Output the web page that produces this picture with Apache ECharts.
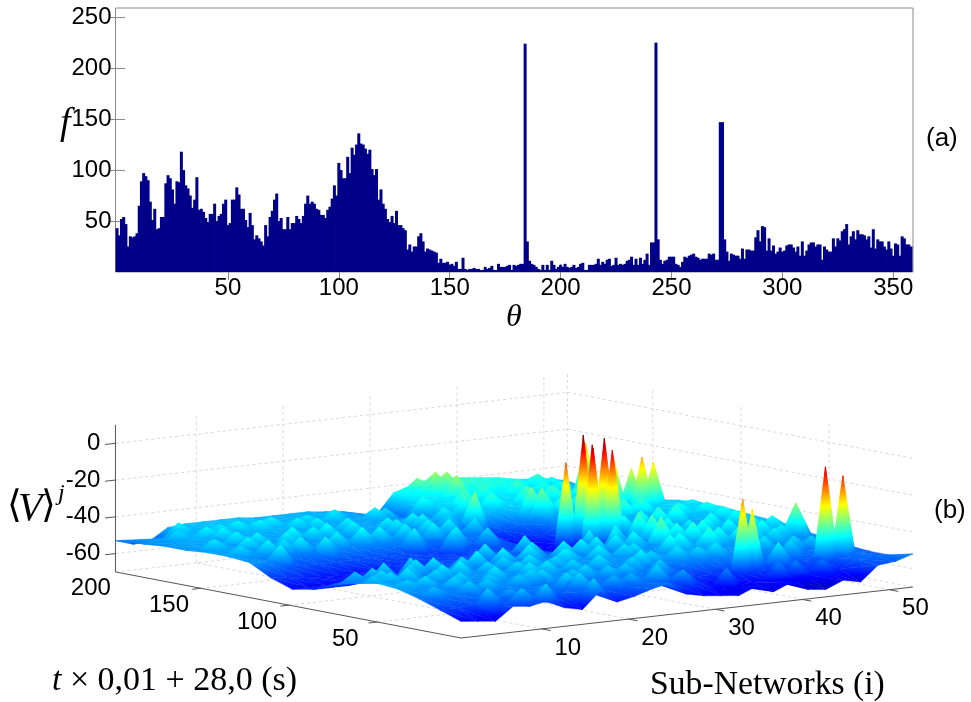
<!DOCTYPE html>
<html>
<head>
<meta charset="utf-8">
<style>html,body{margin:0;padding:0;background:#fff}#chart{width:971px;height:702px}</style>
<script src="https://cdn.jsdelivr.net/npm/echarts@6/dist/echarts.min.js"></script>
</head>
<body>
<div id="chart"></div>
<script>
// histogram (a): counts per degree
const histCounts = [
43,36,52,54,47,25,35,34,35,38,65,89,97,94,90,69,51,62,42,43,54,54,87,95,92,81,67,89,88,118,100,85,82,75,63,71,93,61,62,59,
53,49,57,57,67,50,55,57,67,71,46,48,71,71,83,76,62,62,51,44,58,46,32,36,33,30,26,46,35,54,60,71,77,50,53,42,42,54,42,48,
48,55,52,48,55,67,75,67,69,67,62,61,56,56,53,61,64,72,85,75,107,100,92,92,113,97,122,115,125,136,126,125,121,116,120,101,95,101,71,81,
67,62,52,49,55,48,60,46,
46,43,41,22,27,20,25,25,35,38,30,20,23,22,21,20,19,9,13,9,9,10,7,8,6,10,3,3,14,3,2,3,3,4,3,3,2,2,5,3,4,6,2,2,8,5,5,5,6,7,2,7,6,7,8,8,
224,30,11,8,7,5,3,2,7,2,7,2,11,7,3,5,7,5,8,5,4,5,7,4,5,8,9,2,2,7,7,7,8,13,7,10,8,12,13,6,7,14,7,8,7,8,11,12,15,7,13,7,14,8,12,18,7,29,29,
225,32,12,8,11,12,15,15,15,8,7,5,10,15,14,16,17,18,15,14,12,
13,13,13,18,17,18,12,12,147,147,32,20,11,18,17,16,16,13,23,13,22,22,21,21,34,41,30,45,44,21,33,21,26,18,20,24,20,21,26,27,27,24,20,25,16,30,16,21,27,29,
29,25,27,27,12,25,22,20,20,33,25,33,31,40,42,47,27,35,40,32,41,37,37,36,32,35,24,42,23,32,30,30,25,22,30,23,16,28,27,16,35,33,27,27,25,36
];
const histTicksX = [50, 100, 150, 200, 250, 300, 350];
const histTicksY = [50, 100, 150, 200, 250];

// surface (b): base level in mV at each row of t / column of i
const surfT = [0, 12, 24, 36, 48, 60, 72, 84, 96, 108, 120, 132, 144, 156, 168, 180, 196];
const surfI = [0, 2, 4, 6, 8, 10, 12, 14, 16, 18, 20, 22, 24, 26, 28, 30, 32, 34, 36, 38, 40, 42, 44, 46, 48, 50, 52];
const surfZ = [
[-61,-62,-63,-56,-57,-55,-60,-62,-53,-60,-58,-55,-53,-60,-62,-63,-64,-60,-64,-60,-65,-66,-62,-64,-56,-55,-52],
[-57,-57,-56,-55,-54,-54,-54,-55,-54,-55,-54,-54,-54,-55,-56,-58,-63,-62,-61,-61,-60,-60,-59,-59,-55,-54,-55],
[-53,-53,-53,-53,-53,-52,-52,-53,-52,-52,-53,-53,-52,-53,-54,-55,-58,-58,-57,-55,-55,-55,-55,-55,-53,-54,-55],
[-50,-51,-51,-52,-52,-52,-51,-52,-51,-51,-52,-52,-52,-52,-52,-52,-52,-52,-52,-52,-52,-52,-53,-53,-53,-53,-54],
[-49,-50,-51,-51,-52,-51,-51,-51,-51,-51,-51,-51,-51,-51,-51,-51,-51,-51,-50,-50,-51,-51,-51,-52,-52,-52,-52],
[-51,-52,-52,-52,-52,-52,-52,-52,-52,-52,-51,-51,-51,-51,-51,-51,-52,-51,-50,-50,-50,-51,-51,-51,-51,-51,-51],
[-54,-54,-54,-54,-54,-53,-53,-53,-53,-53,-52,-52,-52,-52,-52,-52,-54,-52,-51,-50,-50,-51,-51,-51,-50,-50,-49],
[-59,-59,-59,-58,-58,-57,-56,-55,-55,-54,-54,-54,-54,-54,-54,-55,-59,-56,-54,-52,-51,-51,-51,-51,-50,-49,-48],
[-61,-61,-61,-60,-60,-60,-59,-58,-57,-56,-56,-55,-55,-55,-56,-57,-63,-60,-57,-54,-52,-51,-50,-50,-49,-48,-47],
[-57,-58,-59,-60,-60,-60,-59,-58,-58,-57,-57,-57,-56,-56,-56,-57,-64,-62,-60,-57,-52,-50,-49,-49,-48,-47,-46],
[-51,-52,-54,-56,-56,-56,-56,-56,-56,-56,-57,-57,-56,-55,-55,-56,-63,-61,-60,-56,-51,-49,-48,-48,-47,-46,-46],
[-50,-51,-51,-52,-52,-52,-52,-52,-52,-52,-52,-53,-53,-52,-53,-54,-62,-60,-58,-53,-50,-48,-48,-48,-47,-47,-47],
[-50,-50,-50,-51,-51,-51,-51,-51,-51,-51,-51,-51,-51,-51,-52,-53,-58,-56,-54,-50,-48,-47,-47,-47,-48,-48,-49],
[-51,-50,-50,-51,-50,-50,-50,-50,-50,-50,-50,-50,-50,-51,-51,-51,-49,-48,-47,-47,-47,-46,-46,-47,-48,-49,-50],
[-51,-50,-49,-49,-49,-49,-49,-49,-50,-50,-50,-50,-50,-50,-51,-52,-47,-46,-46,-46,-46,-45,-46,-47,-48,-49,-51],
[-52,-50,-49,-49,-49,-48,-48,-48,-49,-49,-49,-49,-50,-50,-52,-54,-46,-45,-45,-44,-45,-45,-46,-46,-47,-48,-51],
[-53,-56,-55,-49,-48,-48,-48,-48,-49,-49,-49,-49,-50,-51,-54,-55,-44,-41,-39,-39,-40,-41,-42,-44,-45,-46,-48]
];

// spikes standing on the surface: position and tip height
const peakI = [37,35,48,36,35.5,38,37.5,45,47.4,46.8,48.5,38.8,38.3,38.1,36.6,34.6,36.1,43.1,44.1,47.4,49.8,49.4,48.8,36.8,37.9,50.3,47,46.2,46,48,
37.9,38.3,35.2,36.1,35.6,33.7,34,31.2,39.4,39.9,33,33.2,42,44,46.8,48,
5.5,6.3,5.8,4.7,5,4,5,14,15.5,16.9,13.1,13.2,10.4,9.4,8.5,12,
6.1,7.3,7.2,5.9,14,14.1,17,16.2,14.1,15,15.6,16.5,26.4,25.2,30,33.8,28.2,39.1,39.8,41.2,
4.7,7.8,12.2,10,10.6,16.1,23.4,29.8,25.7,24.2,23.6,20,24,26,20,22,19,25,22,10,3,21,24,20,21,33,40,43,44,41];
const peakT = [113,113,166,103,100,106,99,135,137,128,130,99,88,79.5,67,52,54,83,78,110,106,95,85,21.6,21.6,58,61,50,20,20,
147,143,188,186,178,191,166,146,190,183,193,195,185,185,187,185,
171.5,166,156,144,134,122,185,176.6,169,165,135,149,128,145,133,173,
74,65,50,33,54,69,60,48,30,28,17,14,33,13,71,80,37,52,64.7,57,
8,4,27,33,4,4,131,157,154,138,119,85,78,92,125,145,158,172,180,78,60,50,58,28,40,40,35,40,30,22];
const peakZ = [0,-14,-20,-3,-4,-1,-6,-22,-28,-20,-24,-42,-38,-38,-36,-42,-42,-44,-42,-42,-42,-42,-42,-18,-24,-34,-42,-44,-5,-11,
-35,-35,-33,-33,-33,-36,-38,-34,-40,-40,-44,-44,-41,-41,-40,-42,
-44,-44,-44,-44,-44,-44,-44,-44,-44,-44,-44,-44,-44,-44,-44,-44,
-46,-46,-46,-46,-46,-46,-46,-46,-46,-46,-46,-46,-46,-46,-44,-44,-44,-40,-40,-42,
-47,-48,-47,-47,-47,-47,-44,-44,-44,-44,-44,-45,-45,-45,-44,-44,-44,-44,-45,-46,-46,-46,-45,-46,-46,-45,-44,-45,-46,-44];
// more of the small spikes, row by row: t, their i, their tip heights
const peakRows = [
[176, [3,8,10,18,21,27], [-46,-45,-44,-45,-45,-46]],
[150, [2,7,11,15,18,22,26,29], [-45,-44,-43,-43,-44,-44,-44,-46]],
[135, [2,7,16,18,21,26,29], [-46,-45,-43,-44,-44,-44,-45]],
[118, [23,27], [-45,-46]],
[70, [2,4,9,11,16,19,22,26,28], [-48,-47,-45,-45,-44,-44,-44,-44,-44]],
[55, [1,3,5,9,11,19,23,27,30], [-47,-46,-45,-45,-44,-45,-44,-44,-45]],
[40, [2,4,8,12,16,18,24,30], [-47,-46,-46,-45,-45,-45,-45,-46]],
[25, [2,6,8,18,22,24,28], [-48,-47,-47,-47,-47,-47,-47]],
[12, [8,12,20,22,28], [-50,-50,-49,-49,-50]],
[175, [31,38,42,45,47], [-42,-40,-39,-41,-42]],
[160, [33,36,40,43,46,49], [-40,-40,-38,-39,-41,-43]],
[140, [40,42,44,50], [-40,-39,-38,-42]],
[120, [41,43,45,51], [-40,-39,-39,-44]],
[100, [41,43,45], [-41,-40,-40]],
[85, [32,35,41,46], [-44,-43,-42,-42]],
[70, [32,34,39,42,45,48,50], [-44,-43,-41,-41,-42,-43,-43]],
[55, [31,43,45,48], [-45,-43,-44,-44]],
[38, [35,37,46,48,50], [-46,-45,-46,-47,-47]],
[12, [33,39,41,44], [-52,-52,-52,-53]]
];

const zTicks = [0, -20, -40, -60];
const tTicks = [50, 100, 150, 200];
const iTicks = [10, 20, 30, 40, 50];

// 3d box limits
const iMax = 52, tMax = 196, zMin = -70, zMax = 10;
// the box does not start exactly at i=0, t=0, ticks sit a bit inside the corner
const iOrigin = 0.7, tOrigin = 2.5;
// how a unit of i, t, z lands on the flat plane axes (orthographic view)
const iStep = [8.69, 0.98], tStep = [1.763, 0.337], zStep = 1.8375;
const plane = { left: 100, top: 370, width: 830, height: 280, frontX: 361, frontY: 268 };

function project(i, t, z) {
  return [
    plane.frontX + i * iStep[0] - t * tStep[0],
    plane.frontY - i * iStep[1] - t * tStep[1] - (z - zMin) * zStep
  ];
}

// depth along the floor: bigger is further from the viewer
function depth(i, t) { return iStep[1] * i + tStep[1] * t; }

function surfaceAt(i, t) {
  let c = Math.min(Math.floor(i / 2), surfI.length - 2);
  let r = 0;
  while (r < surfT.length - 2 && surfT[r + 1] <= t) r++;
  const fi = (i - surfI[c]) / (surfI[c + 1] - surfI[c]);
  const ft = (t - surfT[r]) / (surfT[r + 1] - surfT[r]);
  return (surfZ[r][c] * (1 - fi) + surfZ[r][c + 1] * fi) * (1 - ft) +
         (surfZ[r + 1][c] * (1 - fi) + surfZ[r + 1][c + 1] * fi) * ft;
}

// matlab jet, colour limits -70..0
const jetStops = [[0, [0, 0, 128]], [0.125, [0, 0, 255]], [0.375, [0, 255, 255]], [0.625, [255, 255, 0]], [0.875, [255, 0, 0]], [1, [128, 0, 0]]];
const cLow = -70, cHigh = 0;
function jet(z) {
  const f = Math.max(0, Math.min(1, (z - cLow) / (cHigh - cLow)));
  for (let k = 1; k < jetStops.length; k++) {
    if (f <= jetStops[k][0]) {
      const a = jetStops[k - 1], b = jetStops[k];
      const m = (f - a[0]) / (b[0] - a[0]);
      return 'rgb(' + a[1].map((v, n) => Math.round(v + (b[1][n] - v) * m)).join(',') + ')';
    }
  }
  return 'rgb(128,0,0)';
}

// triangles of the surface + spikes, far ones first
const tris = [];
for (let r = 0; r < surfT.length - 1; r++) {
  for (let c = 0; c < surfI.length - 1; c++) {
    const a = [surfI[c], surfT[r], surfZ[r][c]];
    const b = [surfI[c + 1], surfT[r], surfZ[r][c + 1]];
    const d = [surfI[c], surfT[r + 1], surfZ[r + 1][c]];
    const e = [surfI[c + 1], surfT[r + 1], surfZ[r + 1][c + 1]];
    const key = depth(surfI[c] + 1, surfT[r] + (surfT[r + 1] - surfT[r]) / 2);
    tris.push({ v: [d, e, b], key: key + 0.01 });
    tris.push({ v: [d, b, a], key: key });
  }
}
function addPeak(pi, pt, pz) {
  const tall = pz > -30;
  const di = tall ? 1.4 : 1.8, dt = tall ? 3 : 7;
  const tip = [pi, pt, pz];
  const rim = [[pi, pt + dt], [pi + di, pt], [pi, pt - dt], [pi - di, pt]]
    .map(p => {
      const ri = Math.max(0, Math.min(p[0], iMax)), rt = Math.max(0, Math.min(p[1], tMax));
      return [ri, rt, surfaceAt(ri, rt)];
    });
  const key = depth(pi, pt) - 1.5;
  tris.push({ v: [tip, rim[0], rim[3]], key: key + 0.003 });
  tris.push({ v: [tip, rim[0], rim[1]], key: key + 0.002 });
  tris.push({ v: [tip, rim[3], rim[2]], key: key + 0.001 });
  tris.push({ v: [tip, rim[2], rim[1]], key: key });
}
peakI.forEach((pi, n) => addPeak(pi, peakT[n], peakZ[n]));
peakRows.forEach(row => row[1].forEach((pi, n) => addPeak(pi, row[0], row[2][n])));
tris.sort((p, q) => q.key - p.key);

function triFill(pts, zs) {
  const lo = Math.min(zs[0], zs[1], zs[2]), hi = Math.max(zs[0], zs[1], zs[2]);
  if (hi - lo < 0.01) return jet(lo);
  // gradient of z across the triangle on screen
  const x1 = pts[1][0] - pts[0][0], y1 = pts[1][1] - pts[0][1];
  const x2 = pts[2][0] - pts[0][0], y2 = pts[2][1] - pts[0][1];
  const z1 = zs[1] - zs[0], z2 = zs[2] - zs[0];
  const det = x1 * y2 - x2 * y1;
  if (Math.abs(det) < 0.5) return jet((lo + hi) / 2);
  const gx = (z1 * y2 - z2 * y1) / det, gy = (x1 * z2 - x2 * z1) / det;
  const g2 = gx * gx + gy * gy;
  const p0 = [pts[0][0] + gx * (lo - zs[0]) / g2, pts[0][1] + gy * (lo - zs[0]) / g2];
  const p1 = [pts[0][0] + gx * (hi - zs[0]) / g2, pts[0][1] + gy * (hi - zs[0]) / g2];
  const stops = [{ offset: 0, color: jet(lo) }];
  jetStops.forEach(s => {
    const z = cLow + s[0] * (cHigh - cLow);
    if (z > lo && z < hi) stops.push({ offset: (z - lo) / (hi - lo), color: jet(z) });
  });
  stops.push({ offset: 1, color: jet(hi) });
  return new echarts.graphic.LinearGradient(p0[0], p0[1], p1[0], p1[1], stops, true);
}

// box: grid lines and axis lines
const boxLines = [];
const gridStyle = { stroke: '#d8d8d8', lineWidth: 1, lineDash: [3, 3] };
const axisStyle = { stroke: '#555', lineWidth: 1 };
zTicks.forEach(z => {
  boxLines.push({ a: [0, tMax, z], b: [iMax, tMax, z], s: gridStyle });
  boxLines.push({ a: [iMax, tMax, z], b: [iMax, 0, z], s: gridStyle });
});
iTicks.forEach(v => {
  const i = v - iOrigin;
  boxLines.push({ a: [i, 0, zMin], b: [i, tMax, zMin], s: gridStyle });
  boxLines.push({ a: [i, tMax, zMin], b: [i, tMax, zMax], s: gridStyle });
  boxLines.push({ a: [i, 0, zMin], b: [i, -5, zMin], s: axisStyle });
});
tTicks.filter(v => v < tMax).forEach(v => {
  const t = v - tOrigin;
  boxLines.push({ a: [0, t, zMin], b: [iMax, t, zMin], s: gridStyle });
  boxLines.push({ a: [iMax, t, zMin], b: [iMax, t, zMax], s: gridStyle });
  boxLines.push({ a: [0, t, zMin], b: [-1, t, zMin], s: axisStyle });
});
boxLines.push({ a: [0, tMax, zMin], b: [iMax, tMax, zMin], s: gridStyle });
boxLines.push({ a: [iMax, tMax, zMin], b: [iMax, 0, zMin], s: gridStyle });
boxLines.push({ a: [iMax, tMax, zMin], b: [iMax, tMax, zMax], s: gridStyle });
boxLines.push({ a: [0, tMax, zMin], b: [0, tMax, zMax], s: axisStyle });
boxLines.push({ a: [0, tMax, zMin], b: [0, 0, zMin], s: axisStyle });
boxLines.push({ a: [0, 0, zMin], b: [iMax, 0, zMin], s: axisStyle });
zTicks.forEach(z => boxLines.push({ a: [0, tMax, z], b: [-1.2, tMax, z], s: axisStyle }));

const boxLabels = [];
zTicks.forEach(z => boxLabels.push({ text: String(z), at: [0, tMax, z], dx: -15, dy: 0, align: 'right' }));
tTicks.forEach(v => boxLabels.push({ text: String(v), at: [0, v - tOrigin, zMin], dx: v === 200 ? -22 : -32, dy: 17, align: 'center' }));
iTicks.forEach(v => boxLabels.push({ text: String(v), at: [v - iOrigin, 0, zMin], dx: 26, dy: 19, align: 'center' }));

const tickFont = { fontFamily: 'Liberation Sans', fontSize: 24, color: '#000' };
const serif = 'Liberation Serif';

const chart = echarts.init(document.getElementById('chart'), null, { renderer: 'canvas' });
chart.setOption({
  animation: false,
  backgroundColor: '#fff',
  grid: [
    { left: 115.5, top: 8, width: 797.5, height: 264, show: true, borderColor: '#8a8a8a', borderWidth: 1, backgroundColor: '#fff' },
    { left: plane.left, top: plane.top, width: plane.width, height: plane.height }
  ],
  xAxis: [
    { type: 'value', gridIndex: 0, min: -0.7, max: 358.9, splitLine: { show: false }, axisLine: { show: false },
      axisTick: { show: true, inside: true, length: 8, lineStyle: { color: '#8a8a8a' }, customValues: histTicksX },
      axisLabel: { show: true, margin: 4, customValues: histTicksX, ...tickFont } },
    { type: 'value', gridIndex: 0, position: 'top', min: -0.7, max: 358.9, splitLine: { show: false }, axisLine: { show: false },
      axisTick: { show: true, inside: true, length: 8, lineStyle: { color: '#8a8a8a' }, customValues: histTicksX },
      axisLabel: { show: false } },
    { type: 'value', gridIndex: 1, min: 0, max: plane.width, show: false }
  ],
  yAxis: [
    { type: 'value', gridIndex: 0, min: 0, max: 259, splitLine: { show: false }, axisLine: { show: false },
      axisTick: { show: true, inside: true, length: 8, lineStyle: { color: '#8a8a8a' }, customValues: histTicksY },
      axisLabel: { show: true, margin: 4, customValues: histTicksY, ...tickFont } },
    { type: 'value', gridIndex: 0, position: 'right', min: 0, max: 259, splitLine: { show: false }, axisLine: { show: false },
      axisTick: { show: true, inside: true, length: 8, lineStyle: { color: '#8a8a8a' }, customValues: histTicksY },
      axisLabel: { show: false } },
    { type: 'value', gridIndex: 1, min: 0, max: plane.height, inverse: true, show: false }
  ],
  series: [
    {
      type: 'bar', xAxisIndex: 0, yAxisIndex: 0, barWidth: 3, silent: true, clip: true,
      itemStyle: { color: '#000088' },
      data: histCounts.slice(0, 359).map((v, k) => [k, v])
    },
    {
      // box behind the surface
      type: 'custom', xAxisIndex: 2, yAxisIndex: 2, silent: true, clip: false, progressive: 0,
      data: boxLines.map((_, k) => [k]),
      renderItem(params, api) {
        const l = boxLines[params.dataIndex];
        const a = api.coord(project(l.a[0], l.a[1], l.a[2]));
        const b = api.coord(project(l.b[0], l.b[1], l.b[2]));
        return { type: 'line', shape: { x1: a[0], y1: a[1], x2: b[0], y2: b[1] }, style: { fill: null, ...l.s } };
      }
    },
    {
      type: 'custom', xAxisIndex: 2, yAxisIndex: 2, silent: true, clip: false, progressive: 0,
      data: tris.map((_, k) => [k]),
      renderItem(params, api) {
        const tri = tris[params.dataIndex];
        const pts = tri.v.map(p => api.coord(project(p[0], p[1], p[2])));
        const fill = triFill(pts, tri.v.map(p => p[2]));
        return { type: 'polygon', shape: { points: pts }, style: { fill: fill, stroke: fill, lineWidth: 0.4, lineJoin: 'round' } };
      }
    },
    {
      type: 'custom', xAxisIndex: 2, yAxisIndex: 2, silent: true, clip: false, progressive: 0,
      data: boxLabels.map((_, k) => [k]),
      renderItem(params, api) {
        const l = boxLabels[params.dataIndex];
        const p = api.coord(project(l.at[0], l.at[1], l.at[2]));
        return { type: 'text', x: p[0] + l.dx, y: p[1] + l.dy,
          style: { text: l.text, textAlign: l.align, textVerticalAlign: 'middle', font: '24px "Liberation Sans"', fill: '#000' } };
      }
    }
  ],
  graphic: [
    { type: 'text', left: 926, top: 126, style: { text: '(a)', font: '26px "Liberation Sans"', fill: '#000' } },
    { type: 'text', left: 934, top: 498, style: { text: '(b)', font: '26px "Liberation Sans"', fill: '#000' } },
    { type: 'text', left: 60, top: 105, style: { text: 'f', font: 'italic 38px "' + serif + '"', fill: '#000' } },
    { type: 'text', left: 506, top: 302, style: { text: 'θ', font: 'italic 32px "' + serif + '"', fill: '#000' } },
    { type: 'text', left: 7, top: 488, style: { text: '⟨', font: '38px "DejaVu Serif"', fill: '#000' } },
    { type: 'text', left: 18, top: 489, style: { text: 'V', font: 'italic 40px "' + serif + '"', fill: '#000' } },
    { type: 'text', left: 41, top: 488, style: { text: '⟩', font: '38px "DejaVu Serif"', fill: '#000' } },
    { type: 'text', left: 58, top: 482, style: { text: 'j', font: 'italic 24px "' + serif + '"', fill: '#000' } },
    { type: 'text', left: 52, top: 664, style: {
      text: '{i|t} × 0,01 + 28,0 (s)', font: '34px "' + serif + '"', fill: '#000',
      rich: { i: { font: 'italic 34px "' + serif + '"', fill: '#000' } } } },
    { type: 'text', left: 650, top: 668, style: { text: 'Sub-Networks (i)', font: '33.7px "' + serif + '"', fill: '#000' } }
  ]
});
</script>
</body>
</html>
